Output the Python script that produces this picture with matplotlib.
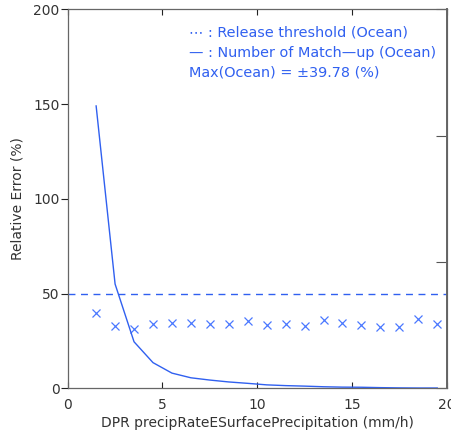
import matplotlib
matplotlib.use("Agg")
import matplotlib.pyplot as plt

# bin centres (mm/h)
rain_bins = [1.5, 2.5, 3.5, 4.5, 5.5, 6.5, 7.5, 8.5, 9.5, 10.5,
             11.5, 12.5, 13.5, 14.5, 15.5, 16.5, 17.5, 18.5, 19.5]
# relative error per bin (%)
rel_error = [39.8, 32.9, 31.1, 33.8, 34.3, 34.3, 33.8, 33.9, 35.5, 33.2,
             33.9, 32.7, 36.0, 34.3, 33.4, 32.2, 32.2, 36.4, 34.1]
# number of match-ups per bin (right axis)
n_matchup = [2235, 825, 368, 203, 120, 83, 65, 50, 39, 27,
             21, 17, 12, 9, 8, 5, 3, 2, 2]
threshold = 50.0
max_err = 39.78

BLUE = "#3060f0"
FS = 10

fig = plt.figure(figsize=(4.52, 4.33), dpi=100)
ax = fig.add_axes([0.1498, 0.1033, 0.8385, 0.8752])
ax2 = ax.twinx()

ax.axhline(threshold, color=BLUE, lw=1.0, ls=(0, (5, 4)))
ax.plot(rain_bins, rel_error, ls="none", marker="x", ms=5.5, mew=0.9, color="#4a78ff")
ax2.plot(rain_bins, n_matchup, color=BLUE, lw=1.0)

ax.set_xlim(0, 20)
ax.set_ylim(0, 200)
ax2.set_ylim(0, 3000)
ax.set_xticks([0, 5, 10, 15, 20])
ax.set_yticks([0, 50, 100, 150, 200])
ax2.set_yticks([0, 1000, 2000, 3000])

ax.tick_params(axis="x", direction="in", length=4, top=True, labelsize=FS,
               pad=7, colors="#222222", labelcolor="#333333")
ax.tick_params(axis="y", direction="out", length=5, labelsize=FS,
               pad=1, colors="#222222", labelcolor="#333333")
# right-axis labels fall outside the frame in the original
ax2.tick_params(axis="y", direction="in", length=8, labelright=False,
                colors="#555555")
for sp in ax.spines.values():
    sp.set_color("#333333")
for sp in ax2.spines.values():
    sp.set_color("#666666")
ax2.spines["right"].set_linewidth(1.4)

ax.set_xlabel("DPR precipRateESurfacePrecipitation (mm/h)", fontsize=FS,
              color="#333333", labelpad=3)
ax.set_ylabel("Relative Error (%)", fontsize=FS, color="#333333", labelpad=6)

legend_lines = ["\u22ef : Release threshold (Ocean)",
                "\u2014 : Number of Match\u2014up (Ocean)",
                f"Max(Ocean) = \u00b1{max_err:.2f} (%)"]
for i, txt in enumerate(legend_lines):
    fig.text(189 / 452, 1 - (33 + 19.5 * i) / 433, txt, fontsize=10.4,
             color=BLUE, ha="left", va="center")

fig.savefig("out.png", dpi=100)
